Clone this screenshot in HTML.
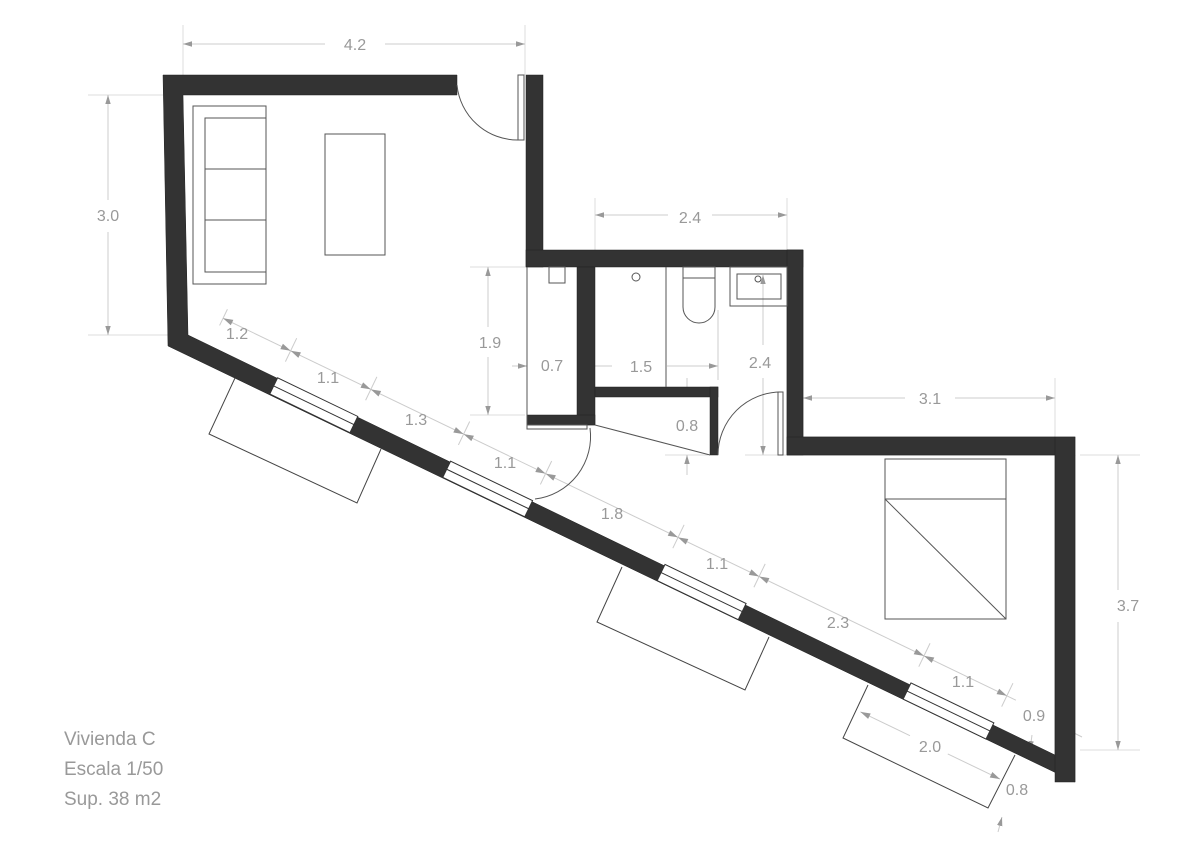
<!DOCTYPE html>
<html><head><meta charset="utf-8"><style>
html,body{margin:0;padding:0;background:#fff;}
svg{display:block;}
text{font-family:"Liberation Sans",sans-serif;fill:#999;font-size:16px;}
</style></head><body>
<svg width="1200" height="848" viewBox="0 0 1200 848" xmlns="http://www.w3.org/2000/svg">
<defs>
<marker id="a" viewBox="0 0 10 10" refX="10" refY="5" markerWidth="9" markerHeight="9" orient="auto-start-reverse"><path d="M0,2 L10,5 L0,8 z" fill="#999"/></marker>
</defs>
<g stroke="#ddd" stroke-width="1" fill="none">
<line x1="183" y1="25" x2="183" y2="75"/><line x1="525" y1="25" x2="525" y2="75"/>
<line x1="88" y1="95" x2="163" y2="95"/><line x1="88" y1="335" x2="168" y2="335"/>
<line x1="595" y1="198" x2="595" y2="250"/><line x1="787" y1="198" x2="787" y2="250"/>
<line x1="470" y1="267" x2="525" y2="267"/><line x1="470" y1="415" x2="525" y2="415"/>
<line x1="1055" y1="378" x2="1055" y2="437"/>
<line x1="1080" y1="455" x2="1140" y2="455"/><line x1="1080" y1="750" x2="1140" y2="750"/>
<line x1="745" y1="455" x2="787" y2="455"/><line x1="665" y1="455" x2="708" y2="455"/>
</g>
<g stroke="#ccc" stroke-width="1" fill="none">
<line x1="183" y1="44" x2="325" y2="44" marker-start="url(#a)"/><line x1="385" y1="44" x2="525" y2="44" marker-end="url(#a)"/>
<line x1="108" y1="95" x2="108" y2="200" marker-start="url(#a)"/><line x1="108" y1="232" x2="108" y2="335" marker-end="url(#a)"/>
<line x1="595" y1="215" x2="668" y2="215" marker-start="url(#a)"/><line x1="712" y1="215" x2="787" y2="215" marker-end="url(#a)"/>
<line x1="488" y1="267" x2="488" y2="327" marker-start="url(#a)"/><line x1="488" y1="357" x2="488" y2="415" marker-end="url(#a)"/>
<line x1="512" y1="366" x2="527" y2="366" marker-end="url(#a)"/>
<line x1="577" y1="366" x2="612" y2="366" marker-start="url(#a)"/><line x1="667" y1="366" x2="718" y2="366" marker-end="url(#a)"/>
<line x1="718" y1="310" x2="718" y2="380"/>
<line x1="763" y1="275" x2="763" y2="345" marker-start="url(#a)"/><line x1="763" y1="378" x2="763" y2="455" marker-end="url(#a)"/>
<line x1="687" y1="378" x2="687" y2="397" marker-end="url(#a)"/><line x1="687" y1="475" x2="687" y2="455" marker-end="url(#a)"/>
<line x1="803" y1="398" x2="905" y2="398" marker-start="url(#a)"/><line x1="955" y1="398" x2="1055" y2="398" marker-end="url(#a)"/>
<line x1="1118" y1="455" x2="1118" y2="590" marker-start="url(#a)"/><line x1="1118" y1="622" x2="1118" y2="750" marker-end="url(#a)"/>
<line x1="1082" y1="737" x2="1066" y2="729" marker-end="url(#a)"/>
<line x1="1032" y1="735" x2="1030" y2="750" marker-end="url(#a)"/>
<line x1="998" y1="832" x2="1002" y2="817" marker-end="url(#a)"/>
</g>
<g transform="translate(168,345) rotate(25.72)" stroke="#ccc" fill="none">
<line x1="38" y1="-48" x2="918" y2="-48"/>
<g stroke="#ccc"><line x1="38" y1="-58" x2="38" y2="-40"/><line x1="113" y1="-62" x2="113" y2="-36"/><line x1="202" y1="-62" x2="202" y2="-36"/><line x1="305" y1="-62" x2="305" y2="-36"/><line x1="396" y1="-62" x2="396" y2="-36"/><line x1="543" y1="-62" x2="543" y2="-36"/><line x1="633" y1="-62" x2="633" y2="-36"/><line x1="816" y1="-62" x2="816" y2="-36"/><line x1="908" y1="-62" x2="908" y2="-36"/></g>
<g fill="#999" stroke="none">
<path d="M38,-48 l10,-3 v6z"/><path d="M113,-48 l-10,-3 v6z"/><path d="M113,-48 l10,-3 v6z"/><path d="M202,-48 l-10,-3 v6z"/><path d="M202,-48 l10,-3 v6z"/><path d="M305,-48 l-10,-3 v6z"/><path d="M305,-48 l10,-3 v6z"/><path d="M396,-48 l-10,-3 v6z"/><path d="M396,-48 l10,-3 v6z"/><path d="M633,-48 l-10,-3 v6z"/><path d="M633,-48 l10,-3 v6z"/><path d="M543,-48 l-10,-3 v6z"/><path d="M543,-48 l10,-3 v6z"/><path d="M816,-48 l-10,-3 v6z"/><path d="M816,-48 l10,-3 v6z"/><path d="M908,-48 l-10,-3 v6z"/>
</g>
<line x1="783" y1="30" x2="838" y2="30" stroke="#ccc"/><line x1="880" y1="30" x2="938" y2="30" stroke="#ccc"/>
<path d="M783,30 l10,-3 v6z M938,30 l-10,-3 v6z" fill="#999" stroke="none"/>
</g>
<g fill="#333" stroke="#222" stroke-width="0.5">
<polygon points="163,75 457,75 457,95 183,95 188,335 1055,755 1055,437 803,437 803,250 787,250 787,267 787,455 1055,455 1075,455 1075,782 168,346"/>
<rect x="526" y="75" width="17" height="192"/>
<rect x="526" y="250" width="277" height="17"/>
<rect x="787" y="250" width="16" height="205"/>
<rect x="787" y="437" width="288" height="18"/>
<rect x="1055" y="437" width="20" height="345"/>
<rect x="577" y="267" width="18" height="158"/>
<rect x="527" y="415" width="68" height="10"/>
<rect x="595" y="387" width="123" height="10"/>
<rect x="710" y="387" width="8" height="68"/>
</g>
<g transform="translate(168,345) rotate(25.72)" fill="#fff" stroke="#333" stroke-width="1">
<rect x="113" y="-18" width="89" height="18"/><line x1="113" y1="-9" x2="202" y2="-9"/>
<rect x="305" y="-18" width="91" height="18"/><line x1="305" y1="-9" x2="396" y2="-9"/>
<rect x="543" y="-18" width="90" height="18"/><line x1="543" y1="-9" x2="633" y2="-9"/>
<rect x="816" y="-18" width="92" height="18"/><line x1="816" y1="-9" x2="908" y2="-9"/>
</g>
<g fill="none" stroke="#444" stroke-width="1">
<polyline points="235,378 209,434 357,503 381,449"/>
<polyline points="622,567 597,622 745,690 769,637"/>
<polyline points="868,685 843,738 988,808 1015,755"/>
</g>
<g fill="none" stroke="#555" stroke-width="1">
<rect x="193" y="106" width="73" height="178"/>
<rect x="205" y="118" width="61" height="154"/>
<line x1="205" y1="169" x2="266" y2="169"/><line x1="205" y1="220" x2="266" y2="220"/>
<rect x="325" y="134" width="60" height="121"/>
<rect x="518" y="75" width="6" height="65"/>
<path d="M457,85 A61,61 0 0 0 518,140"/>
<line x1="527" y1="267" x2="527" y2="428"/>
<rect x="549" y="267" width="16" height="16"/>
<circle cx="636" cy="277" r="4"/>
<line x1="666" y1="267" x2="666" y2="387"/>
<rect x="683" y="267" width="32" height="11"/>
<path d="M683,278 V307 A16,16 0 0 0 715,307 V278"/>
<rect x="730" y="267" width="57" height="39"/>
<rect x="737" y="274" width="44" height="25"/>
<circle cx="758" cy="279" r="3"/>
<rect x="778" y="392" width="5" height="63"/>
<path d="M718,455 A63,63 0 0 1 781,392"/>
<rect x="527" y="425" width="60" height="4"/>
<path d="M590,428 A63,63 0 0 1 535,499"/>
<line x1="595" y1="425" x2="710" y2="455"/>
<rect x="885" y="459" width="121" height="160"/>
<line x1="885" y1="499" x2="1006" y2="499"/>
<line x1="885" y1="499" x2="1006" y2="619"/>
</g>
<text x="355" y="50" text-anchor="middle">4.2</text>
<text x="108" y="221" text-anchor="middle">3.0</text>
<text x="690" y="223" text-anchor="middle">2.4</text>
<text x="490" y="348" text-anchor="middle">1.9</text>
<text x="552" y="371" text-anchor="middle">0.7</text>
<text x="641" y="372" text-anchor="middle">1.5</text>
<text x="760" y="368" text-anchor="middle">2.4</text>
<text x="687" y="431" text-anchor="middle">0.8</text>
<text x="930" y="404" text-anchor="middle">3.1</text>
<text x="1128" y="611" text-anchor="middle">3.7</text>
<text x="237" y="339" text-anchor="middle">1.2</text>
<text x="328" y="383" text-anchor="middle">1.1</text>
<text x="416" y="425" text-anchor="middle">1.3</text>
<text x="505" y="468" text-anchor="middle">1.1</text>
<text x="612" y="519" text-anchor="middle">1.8</text>
<text x="717" y="569" text-anchor="middle">1.1</text>
<text x="838" y="628" text-anchor="middle">2.3</text>
<text x="963" y="687" text-anchor="middle">1.1</text>
<text x="1034" y="721" text-anchor="middle">0.9</text>
<text x="930" y="752" text-anchor="middle">2.0</text>
<text x="1017" y="795" text-anchor="middle">0.8</text>
<text x="64" y="745" style="font-size:19px">Vivienda C</text>
<text x="64" y="775" style="font-size:19px">Escala 1/50</text>
<text x="64" y="805" style="font-size:19px">Sup. 38 m2</text>
</svg>
</body></html>
